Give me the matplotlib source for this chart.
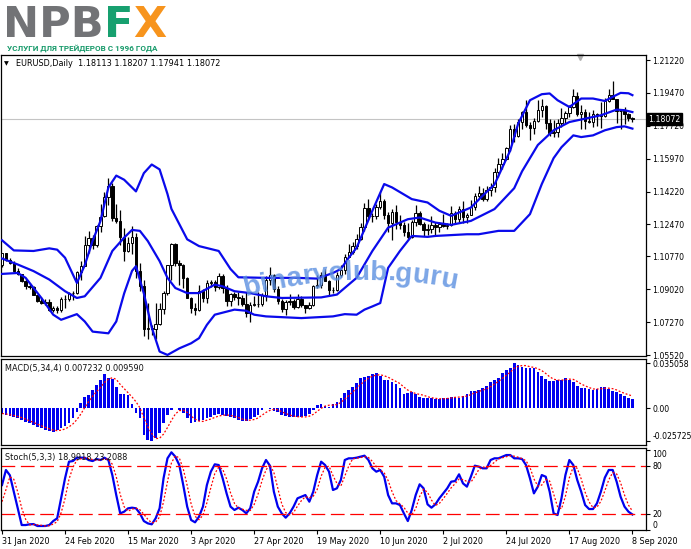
import numpy as np
import matplotlib
matplotlib.use('Agg')
import matplotlib.pyplot as plt
from matplotlib.font_manager import FontProperties, fontManager
from matplotlib.transforms import blended_transform_factory

# EURUSD daily, 31 Jan 2020 .. 8 Sep 2020 (161 bars)
opens = [1.1031, 1.1093, 1.1060, 1.1043, 1.0999, 1.0983, 1.0945, 1.0918, 1.0916, 1.0871,
         1.0841, 1.0831, 1.0836, 1.0791, 1.0803, 1.0791, 1.0848, 1.0853, 1.0882, 1.0880,
         1.0995, 1.1026, 1.1138, 1.1176, 1.1136, 1.1240, 1.1290, 1.1395, 1.1450, 1.1284,
         1.1267, 1.1178, 1.1106, 1.1150, 1.1180, 1.0997, 1.0918, 1.0689, 1.0695, 1.0690,
         1.0720, 1.0796, 1.0884, 1.1029, 1.1141, 1.1043, 1.1031, 1.0963, 1.0856, 1.0805,
         1.0791, 1.0893, 1.0858, 1.0935, 1.0940, 1.0913, 1.0973, 1.0908, 1.0838, 1.0876,
         1.0862, 1.0856, 1.0823, 1.0778, 1.0821, 1.0826, 1.0822, 1.0874, 1.0954, 1.0980,
         1.0906, 1.0838, 1.0795, 1.0832, 1.0841, 1.0807, 1.0850, 1.0816, 1.0804, 1.0819,
         1.0919, 1.0924, 1.0977, 1.0948, 1.0899, 1.0898, 1.0978, 1.1006, 1.1076, 1.1100,
         1.1134, 1.1171, 1.1235, 1.1336, 1.1290, 1.1294, 1.1340, 1.1372, 1.1300, 1.1256,
         1.1316, 1.1262, 1.1246, 1.1206, 1.1178, 1.1259, 1.1308, 1.1250, 1.1217, 1.1222,
         1.1245, 1.1234, 1.1251, 1.1239, 1.1245, 1.1310, 1.1274, 1.1330, 1.1286, 1.1300,
         1.1342, 1.1398, 1.1412, 1.1382, 1.1428, 1.1445, 1.1526, 1.1569, 1.1596, 1.1656,
         1.1753, 1.1716, 1.1791, 1.1846, 1.1778, 1.1761, 1.1799, 1.1858, 1.1875, 1.1786,
         1.1735, 1.1738, 1.1786, 1.1812, 1.1842, 1.1870, 1.1931, 1.1837, 1.1844, 1.1795,
         1.1793, 1.1833, 1.1830, 1.1823, 1.1905, 1.1936, 1.1913, 1.1852, 1.1849, 1.1837,
         1.18113]
highs = [1.1096, 1.1097, 1.1071, 1.1052, 1.1013, 1.0985, 1.0955, 1.0935, 1.0922, 1.0872,
         1.0863, 1.0851, 1.0851, 1.0812, 1.0813, 1.0863, 1.0872, 1.0890, 1.0892, 1.1000,
         1.1053, 1.1186, 1.1213, 1.1190, 1.1245, 1.1355, 1.1420, 1.1495, 1.1465, 1.1358,
         1.1325, 1.1229, 1.1180, 1.1237, 1.1203, 1.1040, 1.0953, 1.0830, 1.0710, 1.0829,
         1.0830, 1.0892, 1.1032, 1.1147, 1.1147, 1.1058, 1.1037, 1.0970, 1.0863, 1.0830,
         1.0925, 1.0903, 1.0952, 1.0950, 1.0952, 1.0990, 1.0983, 1.0926, 1.0885, 1.0890,
         1.0888, 1.0870, 1.0886, 1.0832, 1.0867, 1.0890, 1.0885, 1.0973, 1.1019, 1.0985,
         1.0922, 1.0852, 1.0843, 1.0875, 1.0852, 1.0877, 1.0866, 1.0817, 1.0837, 1.0926,
         1.0976, 1.0994, 1.1008, 1.0953, 1.0912, 1.0995, 1.1032, 1.1090, 1.1145, 1.1155,
         1.1195, 1.1257, 1.1362, 1.1384, 1.1310, 1.1354, 1.1422, 1.1384, 1.1312, 1.1330,
         1.1349, 1.1295, 1.1258, 1.1257, 1.1273, 1.1349, 1.1319, 1.1260, 1.1247, 1.1290,
         1.1262, 1.1258, 1.1303, 1.1257, 1.1346, 1.1319, 1.1347, 1.1371, 1.1310, 1.1375,
         1.1413, 1.1452, 1.1441, 1.1450, 1.1470, 1.1546, 1.1601, 1.1626, 1.1660, 1.1777,
         1.1780, 1.1808, 1.1850, 1.1909, 1.1792, 1.1812, 1.1909, 1.1916, 1.1883, 1.1810,
         1.1805, 1.1810, 1.1866, 1.1852, 1.1882, 1.1966, 1.1951, 1.1882, 1.1862, 1.1845,
         1.1855, 1.1840, 1.1900, 1.1922, 1.1966, 1.2011, 1.1917, 1.1862, 1.1871, 1.1838,
         1.18207]
lows = [1.1019, 1.1055, 1.1036, 1.0995, 1.0980, 1.0943, 1.0905, 1.0902, 1.0870, 1.0833,
        1.0826, 1.0821, 1.0787, 1.0781, 1.0778, 1.0781, 1.0800, 1.0840, 1.0846, 1.0877,
        1.0954, 1.1025, 1.1095, 1.1116, 1.1128, 1.1206, 1.1285, 1.1350, 1.1263, 1.1255,
        1.1136, 1.1054, 1.1100, 1.1091, 1.0960, 1.0895, 1.0654, 1.0636, 1.0660, 1.0636,
        1.0710, 1.0769, 1.0872, 1.0954, 1.1028, 1.0925, 1.0907, 1.0855, 1.0775, 1.0768,
        1.0785, 1.0832, 1.0830, 1.0915, 1.0893, 1.0905, 1.0885, 1.0812, 1.0813, 1.0845,
        1.0820, 1.0815, 1.0757, 1.0727, 1.0815, 1.0810, 1.0815, 1.0838, 1.0925, 1.0886,
        1.0826, 1.0782, 1.0767, 1.0818, 1.0795, 1.0800, 1.0808, 1.0775, 1.0797, 1.0814,
        1.0910, 1.0910, 1.0945, 1.0870, 1.0880, 1.0895, 1.0965, 1.0983, 1.1072, 1.1088,
        1.1115, 1.1164, 1.1213, 1.1273, 1.1260, 1.1278, 1.1330, 1.1275, 1.1205, 1.1167,
        1.1223, 1.1222, 1.1187, 1.1168, 1.1176, 1.1240, 1.1243, 1.1185, 1.1190, 1.1202,
        1.1192, 1.1209, 1.1231, 1.1222, 1.1240, 1.1255, 1.1261, 1.1254, 1.1257, 1.1295,
        1.1326, 1.1390, 1.1370, 1.1373, 1.1400, 1.1419, 1.1500, 1.1540, 1.1592, 1.1636,
        1.1688, 1.1710, 1.1753, 1.1763, 1.1696, 1.1730, 1.1790, 1.1820, 1.1754, 1.1720,
        1.1711, 1.1711, 1.1768, 1.1787, 1.1817, 1.1866, 1.1825, 1.1755, 1.1753, 1.1785,
        1.1766, 1.1772, 1.1762, 1.1819, 1.1899, 1.1913, 1.1789, 1.1753, 1.1781, 1.1800,
        1.17941]
closes = [1.1093, 1.1060, 1.1043, 1.0999, 1.0983, 1.0945, 1.0918, 1.0916, 1.0871, 1.0841,
          1.0831, 1.0836, 1.0791, 1.0803, 1.0791, 1.0848, 1.0853, 1.0882, 1.0880, 1.0995,
          1.1026, 1.1138, 1.1176, 1.1136, 1.1240, 1.1285, 1.1395, 1.1450, 1.1284, 1.1267,
          1.1178, 1.1106, 1.1150, 1.1180, 1.0997, 1.0918, 1.0689, 1.0695, 1.0690, 1.0720,
          1.0796, 1.0884, 1.1029, 1.1141, 1.1043, 1.1031, 1.0963, 1.0856, 1.0805, 1.0791,
          1.0893, 1.0858, 1.0935, 1.0940, 1.0913, 1.0973, 1.0908, 1.0838, 1.0876, 1.0862,
          1.0856, 1.0823, 1.0778, 1.0821, 1.0826, 1.0822, 1.0874, 1.0954, 1.0980, 1.0906,
          1.0838, 1.0795, 1.0832, 1.0841, 1.0807, 1.0850, 1.0816, 1.0804, 1.0819, 1.0919,
          1.0924, 1.0977, 1.0948, 1.0899, 1.0898, 1.0978, 1.1006, 1.1076, 1.1100, 1.1134,
          1.1171, 1.1235, 1.1336, 1.1290, 1.1294, 1.1340, 1.1372, 1.1300, 1.1256, 1.1316,
          1.1262, 1.1246, 1.1206, 1.1178, 1.1259, 1.1308, 1.1250, 1.1217, 1.1222, 1.1245,
          1.1234, 1.1251, 1.1239, 1.1245, 1.1310, 1.1274, 1.1330, 1.1286, 1.1300, 1.1342,
          1.1398, 1.1412, 1.1382, 1.1428, 1.1445, 1.1526, 1.1569, 1.1596, 1.1656, 1.1753,
          1.1716, 1.1791, 1.1846, 1.1778, 1.1761, 1.1799, 1.1858, 1.1875, 1.1786, 1.1735,
          1.1738, 1.1786, 1.1812, 1.1842, 1.1870, 1.1931, 1.1837, 1.1844, 1.1795, 1.1793,
          1.1833, 1.1830, 1.1823, 1.1905, 1.1936, 1.1913, 1.1852, 1.1849, 1.1837, 1.1811,
          1.18072]

# Bollinger bands (bar index -> price)
upper_idx = [0, 3, 8, 12, 14, 16, 19, 21, 23, 25, 27, 29, 31, 34, 36, 38, 40, 42, 43, 47,
             50, 55, 58, 60, 67, 75, 80, 84, 86, 88, 90, 94, 97, 99, 104, 108, 111, 114, 119,
             122, 125, 129, 131, 134, 137, 139, 141, 144, 147, 150, 153, 155, 157, 159, 160]
upper_val = [1.1163, 1.1109, 1.1106, 1.1120, 1.1113, 1.1070, 1.0936, 1.1030, 1.1160, 1.1266,
             1.1444, 1.1507, 1.1485, 1.1423, 1.1520, 1.1566, 1.1540, 1.1409, 1.1330, 1.1168,
             1.1132, 1.1106, 1.1010, 1.0966, 1.0963, 1.0963, 1.0959, 1.0989, 1.1010, 1.1070,
             1.1123, 1.1320, 1.1462, 1.1444, 1.1382, 1.1364, 1.1320, 1.1293, 1.1337,
             1.1400, 1.1460, 1.1641, 1.1783, 1.1908, 1.1940, 1.1944, 1.1908, 1.1872, 1.1917,
             1.1917, 1.1904, 1.1926, 1.1947, 1.1945, 1.1935]
middle_idx = [0, 4, 8, 12, 16, 19, 21, 25, 28, 31, 33, 35, 37, 40, 42, 44, 47, 50, 54, 56,
              59, 63, 67, 71, 81, 85, 90, 94, 98, 103, 106, 110, 114, 119, 125, 130, 132,
              136, 140, 144, 148, 152, 156, 158, 160]
middle_val = [1.1066, 1.1034, 1.0999, 1.0954, 1.0892, 1.0856, 1.0865, 1.0963, 1.1106, 1.1177,
              1.1218, 1.1213, 1.1159, 1.1052, 1.0963, 1.0909, 1.0882, 1.0882, 1.0927, 1.0918,
              1.0892, 1.0882, 1.0865, 1.0856, 1.0859, 1.0874, 1.0963, 1.1106, 1.1230, 1.1275,
              1.1284, 1.1257, 1.1245, 1.1266, 1.1329, 1.1440, 1.1530, 1.1670, 1.1748, 1.1792,
              1.1810, 1.1828, 1.1858, 1.1855, 1.1845]
lower_idx = [0, 4, 6, 10, 13, 15, 19, 21, 23, 27, 29, 31, 33, 34, 36, 38, 40, 42, 45, 48,
             50, 52, 54, 59, 62, 64, 67, 76, 84, 87, 90, 92, 94, 96, 98, 101, 104, 108, 110,
             118, 121, 126, 130, 134, 137, 140, 142, 145, 147, 150, 153, 156, 158, 160]
lower_val = [1.0984, 1.0989, 1.0963, 1.0856, 1.0767, 1.0740, 1.0770, 1.0731, 1.0677, 1.0668,
             1.0731, 1.0880, 1.1000, 1.1025, 1.0880, 1.0700, 1.0571, 1.0553, 1.0588, 1.0615,
             1.0642, 1.0713, 1.0767, 1.0794, 1.0788, 1.0767, 1.0758, 1.0749, 1.0758, 1.0770,
             1.0767, 1.0794, 1.0811, 1.0829, 1.1016, 1.1106, 1.1186, 1.1181, 1.1186,
             1.1195, 1.1195, 1.1213, 1.1213, 1.1302, 1.1462, 1.1600, 1.1658, 1.1721, 1.1712,
             1.1721, 1.1748, 1.1765, 1.1769, 1.1757]

# MACD(5,34,4): histogram and signal
macd_hist = [-0.0046, -0.0052, -0.0057, -0.0065, -0.0077, -0.0090, -0.0103, -0.0116, -0.0129, -0.0142,
             -0.0155, -0.0165, -0.0175, -0.0181, -0.0170, -0.0155, -0.0134, -0.0116, -0.0077, -0.0026,
             0.0039, 0.0090, 0.0103, 0.0142, 0.0181, 0.0219, 0.0263, 0.0237, 0.0227, 0.0168,
             0.0108, 0.0108, 0.0103, 0.0031, -0.0039, -0.0077, -0.0206, -0.0245, -0.0257, -0.0232,
             -0.0194, -0.0116, -0.0052, -0.0013, 0.0005, -0.0013, -0.0039, -0.0077, -0.0116, -0.0103,
             -0.0098, -0.0090, -0.0077, -0.0065, -0.0052, -0.0046, -0.0052, -0.0057, -0.0065, -0.0077,
             -0.0090, -0.0098, -0.0098, -0.0083, -0.0067, -0.0052, -0.0013, 0.0005, -0.0005, -0.0018,
             -0.0031, -0.0052, -0.0059, -0.0065, -0.0067, -0.0070, -0.0067, -0.0062, -0.0046, -0.0013,
             0.0026, 0.0034, 0.0021, 0.0013, 0.0031, 0.0052, 0.0083, 0.0116, 0.0142, 0.0168,
             0.0194, 0.0237, 0.0245, 0.0250, 0.0263, 0.0271, 0.0253, 0.0219, 0.0219, 0.0206,
             0.0186, 0.0155, 0.0108, 0.0116, 0.0124, 0.0108, 0.0090, 0.0083, 0.0077, 0.0077,
             0.0072, 0.0070, 0.0077, 0.0083, 0.0090, 0.0090, 0.0083, 0.0098, 0.0108, 0.0134,
             0.0134, 0.0142, 0.0155, 0.0175, 0.0201, 0.0219, 0.0237, 0.0271, 0.0297, 0.0315,
             0.035058, 0.0335, 0.0323, 0.0315, 0.0315, 0.0315, 0.0284, 0.0253, 0.0227, 0.0212,
             0.0212, 0.0219, 0.0219, 0.0237, 0.0219, 0.0201, 0.0175, 0.0155, 0.0155, 0.0150,
             0.0142, 0.0150, 0.0163, 0.0163, 0.0147, 0.0134, 0.0124, 0.0108, 0.0098, 0.0083,
             0.007232]
macd_signal = [-0.0040, -0.0044, -0.0050, -0.0056, -0.0063, -0.0072, -0.0084, -0.0097, -0.0110, -0.0123,
               -0.0136, -0.0148, -0.0159, -0.0169, -0.0173, -0.0170, -0.0160, -0.0144, -0.0121, -0.0088,
               -0.0045, 0.0006, 0.0052, 0.0094, 0.0129, 0.0161, 0.0201, 0.0225, 0.0237, 0.0224,
               0.0185, 0.0153, 0.0122, 0.0088, 0.0051, 0.0004, -0.0073, -0.0142, -0.0196, -0.0235,
               -0.0232, -0.0200, -0.0149, -0.0094, -0.0044, -0.0018, -0.0015, -0.0031, -0.0061, -0.0084,
               -0.0099, -0.0102, -0.0092, -0.0083, -0.0071, -0.0060, -0.0054, -0.0052, -0.0055, -0.0062,
               -0.0072, -0.0083, -0.0091, -0.0092, -0.0087, -0.0075, -0.0054, -0.0032, -0.0016, -0.0008,
               -0.0012, -0.0027, -0.0040, -0.0052, -0.0061, -0.0065, -0.0067, -0.0067, -0.0061, -0.0047,
               -0.0024, 0.0000, 0.0017, 0.0024, 0.0025, 0.0029, 0.0045, 0.0071, 0.0098, 0.0127,
               0.0155, 0.0184, 0.0211, 0.0232, 0.0249, 0.0257, 0.0260, 0.0252, 0.0241, 0.0224,
               0.0208, 0.0192, 0.0164, 0.0141, 0.0126, 0.0114, 0.0108, 0.0101, 0.0090, 0.0082,
               0.0077, 0.0074, 0.0074, 0.0076, 0.0080, 0.0085, 0.0087, 0.0090, 0.0095, 0.0106,
               0.0119, 0.0130, 0.0141, 0.0152, 0.0168, 0.0188, 0.0208, 0.0232, 0.0256, 0.0280,
               0.0310, 0.0325, 0.0331, 0.0331, 0.0322, 0.0317, 0.0307, 0.0292, 0.0270, 0.0244,
               0.0226, 0.0218, 0.0218, 0.0222, 0.0226, 0.0224, 0.0208, 0.0188, 0.0174, 0.0161,
               0.0150, 0.0149, 0.0151, 0.0155, 0.0156, 0.0152, 0.0142, 0.0128, 0.0116, 0.0105,
               0.00959]

# Stochastic(5,3,3): main and signal
stoch_main = [55.8, 74.6, 68, 47.5, 26.7, 5.8, 5.8, 6.7, 7, 4.6,
              4.6, 4.6, 5.8, 10.8, 14.2, 39.2, 64.2, 85, 85.8, 90,
              90, 90, 87, 85.8, 88.3, 87, 90, 87, 68.3, 43.3,
              20.4, 22.5, 26.7, 27.5, 26.7, 20.4, 10.8, 7.9, 6.7, 14.2,
              26.7, 64.2, 89.2, 96.7, 91.2, 80.8, 55.8, 28.8, 12.1, 9.2,
              16.2, 28.8, 55.8, 72.5, 81.7, 80.8, 64.2, 45.4, 28.8, 24.6,
              27.5, 24.6, 20.4, 26.7, 47.5, 60, 76.7, 87.1, 80, 47.5,
              28.8, 20.4, 15, 20.4, 28.8, 39.2, 41.2, 43.3, 35, 47.5,
              68.3, 85, 80.8, 72.5, 49.6, 51.7, 62.1, 87.1, 89.2, 89.2,
              90, 91.2, 92.5, 87.1, 76.7, 72.5, 74.6, 66.2, 43.3, 32.9,
              32.9, 30.8, 20.4, 10.8, 24.6, 43.3, 56.7, 51.7, 31.7, 27.5,
              31.7, 39.2, 45.4, 51.7, 60, 60.8, 69.2, 57.9, 53.8, 66.2,
              80, 78.8, 76.7, 76.7, 87.1, 89.2, 89.2, 91.2, 93.3, 93.3,
              89.2, 89.2, 88.3, 80.8, 64.2, 45.4, 53.8, 68.3, 66.2, 47.5,
              20.4, 18.3, 39.2, 68.3, 87.1, 80.8, 62.1, 47.5, 30.8, 25.8,
              25.8, 32.9, 47.5, 65, 74.6, 74.6, 60, 41.2, 28.8, 22.5,
              18.9918]
stoch_signal = [35, 50, 66, 63, 47, 27, 13, 6, 6.5, 6,
                5.5, 4.6, 5, 7, 10, 21, 39, 63, 78, 87,
                88.6, 90, 89, 87.6, 87, 87, 88.4, 88, 81.8, 66.2,
                44, 28.7, 23.2, 25.6, 27, 24.9, 19.3, 13, 8.5, 9.6,
                15.9, 35, 60, 83.4, 92.4, 89.6, 76, 55.3, 32.2, 16.7,
                12.5, 18, 33.6, 52.4, 70, 78.3, 75.6, 63.5, 46.1, 32.9,
                27, 25.6, 24.2, 23.9, 31.5, 44.7, 61.4, 74.6, 81.3, 71.5,
                52.1, 32.2, 21.4, 18.6, 21.4, 29.5, 36.4, 41.2, 39.8, 41.9,
                50.3, 66.9, 78, 79.4, 67.6, 57.9, 54.5, 67, 79.5, 88.5,
                89.5, 90.1, 91.2, 90.3, 85.4, 78.8, 74.6, 71.1, 61.4, 47.5,
                36.4, 32.2, 28, 20.7, 18.6, 26.2, 41.5, 50.6, 46.7, 37,
                30.3, 32.8, 38.8, 45.4, 52.4, 57.5, 63.3, 62.6, 60.3, 59.3,
                66.7, 75, 78.5, 77.4, 80.2, 84.3, 88.5, 89.9, 91.2, 92.6,
                91.9, 90.6, 88.9, 86.1, 77.8, 63.5, 54.5, 55.8, 62.8, 60.7,
                44.7, 28.7, 26, 41.9, 64.9, 78.7, 76.7, 63.5, 46.8, 34.7,
                27.5, 28.2, 35.4, 48.5, 62.4, 71.4, 69.7, 58.6, 43.3, 30.8,
                23.2088]

date_idx = [0, 16, 32, 48, 64, 80, 96, 112, 128, 144, 160]
date_labels = ['31 Jan 2020', '24 Feb 2020', '15 Mar 2020', '3 Apr 2020', '27 Apr 2020',
               '19 May 2020', '10 Jun 2020', '2 Jul 2020', '24 Jul 2020', '17 Aug 2020', '8 Sep 2020']
price_ticks = [1.21220, 1.19470, 1.17720, 1.15970, 1.14220, 1.12470, 1.10770, 1.09020, 1.07270, 1.05520]
macd_ticks = [0.035058, 0.0, -0.025725]
macd_tick_labels = ['0.035058', '0.00', '-0.025725']
stoch_ticks = [100, 80, 20, 0]

W, H = 691, 549
fig = plt.figure(figsize=(W / 100, H / 100), dpi=100)
fig.patch.set_facecolor('white')


def px_axes(x0, y0, x1, y1):
    return fig.add_axes([x0 / W, 1 - y1 / H, (x1 - x0) / W, (y1 - y0) / H])


def fx(px):
    return px / W


def fy(py):
    return 1 - py / H


ax = px_axes(1, 55, 646, 356)
ax_macd = px_axes(1, 359, 646, 445)
ax_st = px_axes(1, 448, 646, 530)

o = np.array(opens)
h = np.array(highs)
l = np.array(lows)
c = np.array(closes)
x = np.arange(len(c))

# candles
up = c >= o
body_lo = np.minimum(o, c)
body_h = np.maximum(np.abs(c - o), 0.00008)
ax.vlines(x, l, h, color='black', lw=0.9, zorder=2)
ax.bar(x[up], body_h[up], bottom=body_lo[up], width=0.62, color='white',
       edgecolor='black', lw=0.7, zorder=3)
ax.bar(x[~up], body_h[~up], bottom=body_lo[~up], width=0.62, color='black',
       edgecolor='black', lw=0.7, zorder=3)

band_color = '#0a0aeb'
for bi, bv in ((upper_idx, upper_val), (middle_idx, middle_val), (lower_idx, lower_val)):
    ax.plot(bi, bv, color=band_color, lw=1.6, zorder=4, solid_joinstyle='round')

ax.axhline(c[-1], color='#c4c4c4', lw=0.8, zorder=0)
ax.set_ylim(1.05473, 1.21486)
ax.set_yticks(price_ticks)
ax.set_yticklabels([f'{v:.5f}' for v in price_ticks])

# last price box on the scale
bt = blended_transform_factory(ax.transAxes, ax.transData)
ax.text(1.004, c[-1], f'{c[-1]:.5f}', transform=bt, ha='left', va='center',
        fontsize=5.7, color='white', zorder=10,
        bbox=dict(boxstyle='square,pad=0.18', fc='black', ec='black'))
ax.plot([0.898], [0.992], marker='v', ms=4.5, color='#b0b0b0',
        transform=ax.transAxes, clip_on=False)

# MACD
ax_macd.bar(x, macd_hist, width=0.68, color='#0000f0', lw=0)
ax_macd.plot(x, macd_signal, color='red', lw=0.9, ls=(0, (1.5, 1.5)))
ax_macd.set_ylim(-0.02844, 0.0382)
ax_macd.set_yticks(macd_ticks)
ax_macd.set_yticklabels(macd_tick_labels)

# Stochastic
ax_st.plot(x, stoch_main, color='#0000ee', lw=1.6)
ax_st.plot(x, stoch_signal, color='red', lw=0.9, ls=(0, (1.5, 1.5)))
for lev in (80, 20):
    ax_st.axhline(lev, color='red', lw=0.9, ls=(0, (11, 4.5)))
ax_st.set_ylim(-0.4, 102.1)
ax_st.set_yticks(stoch_ticks)
ax_st.set_yticklabels([str(v) for v in stoch_ticks])

for a in (ax, ax_macd, ax_st):
    a.set_xlim(-0.254, 163.45)
    a.set_facecolor('white')
    a.yaxis.tick_right()
    a.tick_params(axis='y', direction='out', length=3, width=0.8, pad=1.5,
                  labelsize=5.6, colors='black')
    a.tick_params(axis='x', bottom=False, labelbottom=False)
    for s in a.spines.values():
        s.set_linewidth(0.9)
        s.set_color('black')

ax_st.set_xticks(date_idx)
ax_st.set_xticklabels(date_labels, ha='left')
ax_st.tick_params(axis='x', bottom=True, labelbottom=True, direction='out',
                  length=3, width=0.8, pad=2, labelsize=5.8)

labs = ax_st.get_yticklabels()
labs[0].set_va('top')
labs[-1].set_va('bottom')
ax_macd.get_yticklabels()[-1].set_va('bottom')

# window captions
fig.text(fx(4), fy(63.5), '\u25bc', fontsize=4.5, color='black', va='center', ha='left')
fig.text(fx(16), fy(63.5), 'EURUSD,Daily  1.18113 1.18207 1.17941 1.18072',
         fontsize=5.9, color='black', va='center', ha='left')
fig.text(fx(5), fy(368), 'MACD(5,34,4) 0.007232 0.009590', fontsize=5.9,
         color='#111111', va='center', ha='left')
fig.text(fx(5), fy(457.5), 'Stoch(5,3,3) 18.9918 23.2088', fontsize=5.9,
         color='#111111', va='center', ha='left')

renderer = fig.canvas.get_renderer()
names = {f.name for f in fontManager.ttflist}


def pick_family(cands):
    for fam in cands:
        if fam in names:
            return fam
    return 'DejaVu Sans'


def text_w(s, prop):
    if not s:
        return 0.0
    w, _, _ = renderer.get_text_width_height_descent(s, prop, ismath=False)
    return w


# NPBFX logo
logo_prop = FontProperties(family='DejaVu Sans', weight='bold', size=31)
lx = 3
fig.text(fx(lx), fy(37), 'NPB', fontproperties=logo_prop, color='#727376', va='baseline', ha='left')
lx += text_w('NPB', logo_prop)
fig.text(fx(lx), fy(37), 'F', fontproperties=logo_prop, color='#17a06f', va='baseline', ha='left')
lx += text_w('F', logo_prop)
fig.text(fx(lx), fy(37), 'X', fontproperties=logo_prop, color='#f7941d', va='baseline', ha='left')

subtitle = 'УСЛУГИ ДЛЯ ТРЕЙДЕРОВ С 1996 ГОДА'
sub_family = pick_family(['Liberation Sans Narrow', 'Roboto', 'Liberation Sans'])
sub_prop = FontProperties(family=sub_family, weight='bold', size=10)
sub_prop.set_size(10 * 152 / text_w(subtitle, sub_prop))
fig.text(fx(7), fy(50.5), subtitle, fontproperties=sub_prop, color='#179a6a', va='baseline', ha='left')

# watermark along an arc
wm = 'binaryclub.guru'
wm_prop = FontProperties(family=pick_family(['Liberation Sans', 'Roboto']), weight='bold', size=18)
wm_prop.set_size(18 * 210 / text_w(wm, wm_prop))
wx0 = 245
for k, ch in enumerate(wm):
    xc = wx0 + (text_w(wm[:k], wm_prop) + text_w(wm[:k + 1], wm_prop)) / 2
    yb = 280 + 0.0011 * (xc - 365) ** 2
    rot = -np.degrees(np.arctan(0.0022 * (xc - 365)))
    fig.text(fx(xc), fy(yb), ch, fontproperties=wm_prop, color='#5b8fe0', alpha=0.8,
             ha='center', va='baseline', rotation=rot, rotation_mode='anchor', zorder=5)

fig.savefig('out.png', dpi=100, facecolor='white')
